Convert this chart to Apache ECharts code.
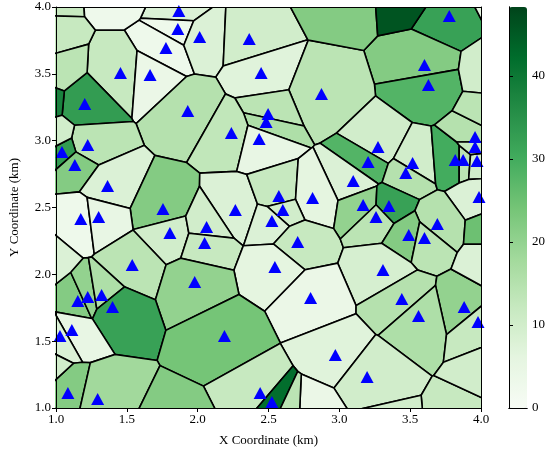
<!DOCTYPE html>
<html>
<head>
	<meta charset="utf-8">
	<title>Voronoi</title>
	<script src="https://cdn.jsdelivr.net/npm/echarts@6/dist/echarts.min.js"></script>
</head>
<body style="margin:0">
	<div id="container" style="width:554px;height:454px;"></div>
	<script type="text/javascript">
		// site positions (km) and cell values; sites outside 1..4 only shape the edge cells
		var siteX = [1.867, 1.860, 1.776, 2.014, 2.364, 1.455, 1.664, 2.448, 3.776, 3.601,
			3.629, 2.874, 1.203, 1.930, 2.497, 2.483, 2.238, 2.434, 3.273, 1.224,
			1.042, 1.133, 3.203, 3.517, 3.469, 3.818, 3.874, 3.972, 3.958, 3.958,
			3.098, 1.364, 3.986, 1.755, 2.266, 2.573, 2.811, 2.601, 3.168, 3.350,
			1.175, 1.301, 1.804, 2.063, 2.049, 2.524, 2.706, 3.259, 3.692, 3.490,
			3.601, 1.538, 2.545, 3.308, 1.979, 2.797, 3.441, 1.154, 1.224, 1.322,
			1.399, 3.881, 3.559, 3.979, 1.112, 1.028, 2.189, 2.972, 3.196, 1.084,
			1.294, 2.441, 2.524,
			0.93, 1.45, 3.02, 3.48, 4.12, 0.92, 0.985, 0.90, 0.985, 0.90,
			0.90, 0.88, 1.83, 2.78, 2.66, 3.90, 3.30, 4.08, 4.05, 4.08,
			4.08, 4.12];
		var siteY = [3.970, 3.835, 3.693, 3.776, 3.761, 3.506, 3.491, 3.506, 3.933, 3.566,
			3.416, 3.349, 3.274, 3.222, 3.200, 3.140, 3.057, 3.012, 2.953, 2.968,
			2.915, 2.818, 2.840, 2.833, 2.758, 2.855, 2.855, 2.848, 3.027, 2.953,
			2.698, 2.661, 2.579, 2.489, 2.481, 2.586, 2.571, 2.481, 2.519, 2.511,
			2.414, 2.429, 2.309, 2.354, 2.234, 2.399, 2.242, 2.429, 2.377, 2.294,
			2.272, 2.070, 2.055, 2.032, 1.943, 1.823, 1.816, 1.801, 1.831, 1.846,
			1.756, 1.756, 1.688, 1.643, 1.584, 1.539, 1.539, 1.397, 1.232, 1.112,
			1.067, 1.112, 1.045,
			4.12, 4.15, 4.09, 4.12, 4.10, 3.75, 3.53, 3.30, 3.02, 2.10,
			1.30, 0.90, 0.82, 0.98, 0.985, 0.85, 0.80, 3.50, 3.20, 2.35,
			2.10, 1.30];
		var cellValue = [8, 3, 3, 8, 10, 12, 4, 7, 32, 22,
			28, 14, 33, 15, 14, 16, 13, 5, 10, 14,
			33, 22, 28, 10, 15, 30, 14, 10, 15, 12,
			8, 8, 8, 22, 8, 12, 6, 10, 20, 32,
			3, 5, 10, 10, 12, 8, 12, 14, 15, 22,
			14, 14, 6, 9, 20, 4, 15, 22, 20, 16,
			32, 20, 16, 12, 5, 8, 24, 7, 10, 22,
			18, 12, 42,
			12, 3, 22, 46, 6, 12, 14, 38, 10, 8,
			10, 15, 22, 4, 14, 12, 10, 10, 14, 25,
			8, 10];
		var barTicks = [0, 10, 20, 30, 40];
		var greens = ['#f7fcf5', '#e5f5e0', '#c7e9c0', '#a1d99b', '#74c476', '#41ab5d', '#238b45', '#006d2c', '#00441b'];

		// clip polygon by half plane closer to site a than site b
		function clipPoly(poly, ax, ay, bx, by) {
			var mx = (ax + bx) / 2, my = (ay + by) / 2;
			var dx = bx - ax, dy = by - ay;
			var out = [];
			for (var k = 0; k < poly.length; k++) {
				var p = poly[k], q = poly[(k + 1) % poly.length];
				var sp = (p[0] - mx) * dx + (p[1] - my) * dy;
				var sq = (q[0] - mx) * dx + (q[1] - my) * dy;
				if (sp <= 0) out.push(p);
				if ((sp < 0 && sq > 0) || (sp > 0 && sq < 0)) {
					var t = sp / (sp - sq);
					out.push([p[0] + t * (q[0] - p[0]), p[1] + t * (q[1] - p[1])]);
				}
			}
			return out;
		}
		var cells = [];
		for (var i = 0; i < siteX.length; i++) {
			var poly = [[-2, -2], [7, -2], [7, 7], [-2, 7]];
			for (var j = 0; j < siteX.length; j++) {
				if (j == i) continue;
				poly = clipPoly(poly, siteX[i], siteY[i], siteX[j], siteY[j]);
			}
			cells.push(poly);
		}

		var cellData = [], markers = [];
		for (var i = 0; i < siteX.length; i++) {
			cellData.push([siteX[i], siteY[i], cellValue[i], i]);
			if (siteX[i] >= 1 && siteX[i] <= 4 && siteY[i] >= 1 && siteY[i] <= 4)
				markers.push([siteX[i], siteY[i]]);
		}

		var font = 'Liberation Serif';
		var myChart = echarts.init(document.getElementById('container'));
		myChart.setOption({
			animation: false,
			textStyle: { fontFamily: font },
			grid: [
				{ left: 52, top: 7, width: 429, height: 401 },
				{ left: 509, top: 7, width: 18, height: 401 }
			],
			xAxis: [
				{
					gridIndex: 0, type: 'value', min: 1, max: 4, interval: 0.5,
					name: 'X Coordinate (km)', nameLocation: 'middle', nameGap: 26,
					nameTextStyle: { fontFamily: font, fontSize: 13, color: '#000' },
					axisLine: { lineStyle: { color: '#000', width: 1 } },
					axisTick: { length: 4, lineStyle: { color: '#000' } },
					axisLabel: { fontFamily: font, fontSize: 13, color: '#000', margin: 5,
						formatter: function (v) { return v.toFixed(1); } },
					splitLine: { show: false }, z: 10
				},
				{
					gridIndex: 0, type: 'value', min: 1, max: 4, position: 'top',
					axisLine: { lineStyle: { color: '#000', width: 1 } },
					axisTick: { show: false }, axisLabel: { show: false }, splitLine: { show: false }, z: 10
				},
				{
					gridIndex: 1, type: 'value', min: 0, max: 1, position: 'bottom',
					axisLine: { lineStyle: { color: '#000' } },
					axisTick: { show: false }, axisLabel: { show: false }, splitLine: { show: false }, z: 10
				},
				{
					gridIndex: 1, type: 'value', min: 0, max: 1, position: 'top',
					axisLine: { lineStyle: { color: '#000' } },
					axisTick: { show: false }, axisLabel: { show: false }, splitLine: { show: false }, z: 10
				}
			],
			yAxis: [
				{
					gridIndex: 0, type: 'value', min: 1, max: 4, interval: 0.5,
					name: 'Y Coordinate (km)', nameLocation: 'middle', nameGap: 35,
					nameTextStyle: { fontFamily: font, fontSize: 13, color: '#000' },
					axisLine: { lineStyle: { color: '#000', width: 1 } },
					axisTick: { length: 4, lineStyle: { color: '#000' } },
					axisLabel: { fontFamily: font, fontSize: 13, color: '#000', margin: 5,
						formatter: function (v) { return v.toFixed(1); } },
					splitLine: { show: false }, z: 10
				},
				{
					gridIndex: 0, type: 'value', min: 1, max: 4, position: 'right',
					axisLine: { lineStyle: { color: '#000', width: 1 } },
					axisTick: { show: false }, axisLabel: { show: false }, splitLine: { show: false }, z: 10
				},
				{
					gridIndex: 1, type: 'value', min: 0, max: 48.3, interval: 10, position: 'right',
					axisLine: { show: true, lineStyle: { color: '#000' } },
					axisTick: { show: true, length: 4, lineStyle: { color: '#000' } },
					axisLabel: { fontFamily: font, fontSize: 13, color: '#000', margin: 5, showMaxLabel: false,
						formatter: function (v) { return barTicks.indexOf(v) >= 0 ? String(v) : ''; } },
					splitLine: { show: false }, z: 10
				},
				{
					gridIndex: 1, type: 'value', min: 0, max: 48.3, position: 'left',
					axisLine: { show: true, lineStyle: { color: '#000' } },
					axisTick: { show: false }, axisLabel: { show: false }, splitLine: { show: false }, z: 10
				}
			],
			visualMap: {
				type: 'continuous', min: 0, max: 48.3, dimension: 2, seriesIndex: 0,
				left: 509, top: 7, itemWidth: 18, itemHeight: 401, padding: 0,
				calculable: false, text: null, showLabel: false, hoverLink: false,
				textStyle: { color: 'rgba(0,0,0,0)' },
				inRange: { color: greens }
			},
			series: [
				{
					type: 'custom', xAxisIndex: 0, yAxisIndex: 0, clip: true,
					data: cellData,
					encode: { x: 0, y: 1 },
					renderItem: function (params, api) {
						var poly = cells[api.value(3)];
						var pts = [];
						for (var k = 0; k < poly.length; k++) pts.push(api.coord(poly[k]));
						return {
							type: 'polygon',
							shape: { points: pts },
							style: { fill: api.visual('color'), stroke: '#000', lineWidth: 1.6 }
						};
					}
				},
				{
					type: 'scatter', xAxisIndex: 0, yAxisIndex: 0,
					symbol: 'triangle', symbolSize: [13, 12],
					itemStyle: { color: '#0000ff', opacity: 1 },
					data: markers, z: 5
				}
			]
		});
	</script>
</body>
</html>
